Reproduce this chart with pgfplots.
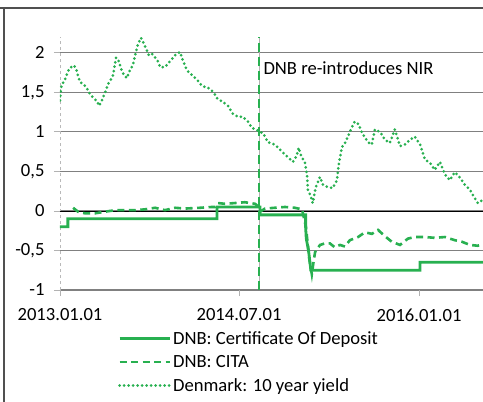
\documentclass[border=0pt]{standalone}
\usepackage{fontspec}
\setmainfont{Carlito}
\usepackage{pgfplots}
\pgfplotsset{compat=1.18}
\definecolor{dgreen}{RGB}{40,176,80}
\definecolor{gridg}{RGB}{128,128,128}
\definecolor{frameg}{RGB}{80,80,80}
\begin{document}
\begin{tikzpicture}
\useasboundingbox (0pt,0pt) rectangle (483pt,-402pt);
\draw[frameg, line width=1.2pt] (0pt,-8pt) -- (483pt,-8pt);
\draw[frameg, line width=1.2pt] (4pt,-8pt) -- (4pt,-402pt);
\begin{axis}[
  at={(60pt,-290pt)}, anchor=south west,
  scale only axis, width=423pt, height=253pt,
  xmin=0, xmax=1290, ymin=-1, ymax=2.2,
  axis line style={draw=none},
  font=\fontsize{18.6}{22}\selectfont,
  /pgf/number format/assume math mode=true,
  ytick={-1,-0.5,0,0.5,1,1.5,2},
  yticklabels={-1,{-0,5},0,{0,5},1,{1,5},2},
  xtick={0,546,1095},
  xticklabels={2013.01.01,2014.07.01,2016.01.01},
  ymajorgrids, grid style={gridg, line width=1.2pt},
  tick align=outside, major tick length=6pt,
  tick style={gray!60, line width=0.8pt},
  xtick pos=bottom, ytick pos=left,
  yticklabel style={xshift=-6pt},
  xticklabel style={yshift=-9pt},
  legend style={at={(axis description cs:0.137,-0.155)}, anchor=north west, draw=none, fill=none,
    font=\fontsize{18.6}{22}\selectfont, row sep=5.5pt, inner sep=0pt},
  legend cell align=left,
  legend image code/.code={\draw[#1] (0pt,0pt) -- (50pt,0pt);},
]
\addplot[gray!55, dashed, line width=0.8pt, forget plot] coordinates {(0,-1) (0,2.2)};
\addplot[black, line width=0.8pt, forget plot] coordinates {(0,0) (1290,0)};
\addplot[gray!60, line width=0.6pt, forget plot] coordinates {(607,-1) (607,2.2)};
\addplot[dgreen, line width=2.8pt, dash pattern=on 9pt off 5pt, forget plot] coordinates {(607,-1) (607,2.2)};

\addplot[dgreen, line width=2.8pt] coordinates {
(0,-0.20) (24,-0.20) (24,-0.10) (479,-0.10) (479,0.05) (610,0.05) (610,-0.05)
(749,-0.05) (749,-0.20) (751,-0.35) (758,-0.50) (765,-0.75) (1098,-0.75) (1098,-0.65) (1290,-0.65)};
\addlegendentry{DNB: Certificate Of Deposit}

\addplot[dgreen, line width=2.6pt, dash pattern=on 7pt off 4.5pt] coordinates {
(40,0.04) (55,-0.01) (76,-0.03) (107,-0.03) (137,-0.01) (168,0.01) (198,0.01) (229,0.01)
(259,0.02) (290,0.04) (320,0.01) (351,0.04) (381,0.03) (427,0.04) (463,0.05) (472,0.05)
(482,0.10) (503,0.09) (534,0.10) (564,0.11) (595,0.09) (604,0.06) (610,-0.01) (625,0.03)
(655,0.04) (686,0.05) (716,0.04) (738,0.02) (750,-0.20) (760,-0.60) (768,-0.80) (773,-0.65)
(778,-0.52) (793,-0.43) (808,-0.41) (823,-0.41) (838,-0.46) (854,-0.43) (869,-0.45)
(884,-0.37) (909,-0.33) (930,-0.27) (951,-0.29) (970,-0.24) (991,-0.32) (1012,-0.39)
(1037,-0.43) (1061,-0.35) (1082,-0.33) (1113,-0.33) (1143,-0.34) (1174,-0.33) (1204,-0.37)
(1226,-0.39) (1250,-0.43) (1274,-0.44) (1290,-0.42)};
\addlegendentry{DNB: CITA}

\addplot[dgreen, line width=3pt, line cap=round, dash pattern=on 0pt off 4.5pt] coordinates {
(0,1.40) (3,1.55) (6,1.60) (15,1.66) (24,1.76) (30,1.81) (43,1.84) (49,1.80) (55,1.71)
(61,1.63) (73,1.60) (85,1.53) (91,1.48) (104,1.42) (113,1.39) (119,1.33) (128,1.40)
(137,1.49) (146,1.60) (155,1.66) (162,1.72) (171,1.94) (180,1.89) (186,1.80) (195,1.72)
(204,1.68) (213,1.78) (223,1.85) (229,1.97) (238,2.11) (247,2.19) (253,2.14) (262,2.06)
(271,1.97) (280,1.99) (290,1.94) (299,1.89) (305,1.82) (320,1.82) (335,1.89) (351,1.97)
(366,2.01) (375,1.90) (387,1.78) (402,1.72) (418,1.66) (433,1.58) (451,1.56) (466,1.51)
(482,1.41) (497,1.38) (512,1.33) (527,1.23) (543,1.19) (558,1.19) (573,1.13) (585,1.05)
(598,1.03) (610,1.00) (620,0.98) (634,0.87) (655,0.84) (677,0.75) (695,0.68) (710,0.62)
(722,0.70) (728,0.80) (735,0.70) (747,0.61) (753,0.46) (756,0.27) (765,0.18) (771,0.10)
(780,0.30) (787,0.37) (793,0.43) (802,0.33) (817,0.30) (832,0.29) (845,0.39) (848,0.52)
(854,0.68) (860,0.81) (869,0.86) (878,0.94) (890,1.06) (899,1.13) (910,1.10) (921,0.99)
(939,0.87) (951,0.84) (960,1.03) (976,1.00) (991,0.90) (1006,0.86) (1021,1.03) (1037,0.82)
(1052,0.84) (1067,0.90) (1082,0.94) (1098,0.84) (1113,0.65) (1128,0.61) (1143,0.52)
(1159,0.62) (1174,0.46) (1189,0.39) (1204,0.49) (1220,0.42) (1235,0.33) (1250,0.27)
(1262,0.18) (1274,0.10) (1290,0.14)};
\addlegendentry{Denmark: 10 year yield}

\node[anchor=west, inner sep=0pt, font=\fontsize{18.6}{22}\selectfont] at (axis cs:620,1.81) {DNB re-introduces NIR};
\end{axis}
\end{tikzpicture}
\end{document}
